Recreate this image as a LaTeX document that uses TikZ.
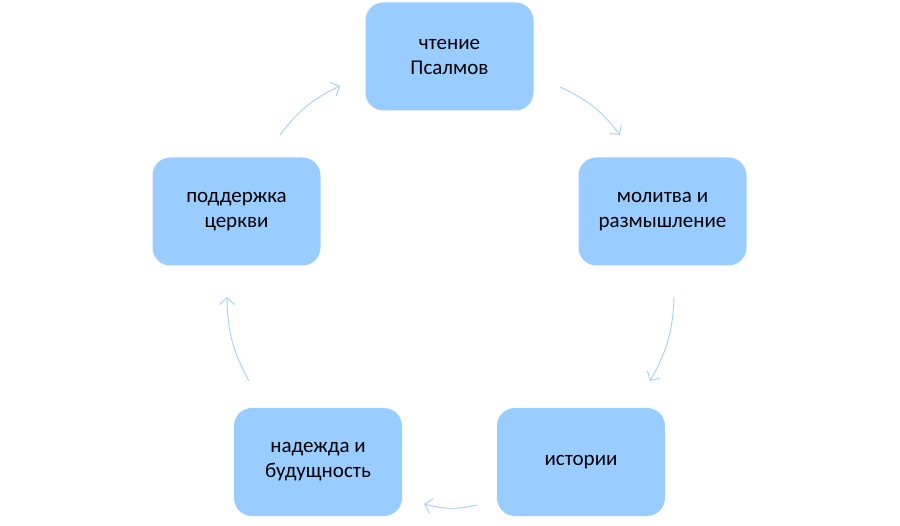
\documentclass[tikz,border=0pt]{standalone}
\usepackage{fontspec}
\setmainfont{Carlito}
\usetikzlibrary{arrows.meta}
\definecolor{sky}{RGB}{153,204,255}
\definecolor{skyline}{RGB}{160,208,255}

\begin{document}
\begin{tikzpicture}[x=1pt,y=-1pt,
    stage/.style={fill=sky,rounded corners=18pt,minimum width=168pt,minimum height=108pt,
      align=center,font=\fontsize{21}{25}\selectfont,text=black},
    flow/.style={-{Straight Barb[length=7pt,width=15pt]},skyline,line width=0.9pt}]
  \useasboundingbox (0,0) rectangle (900,526);
  \node[stage] (read) at (449.5,56.5) {чтение\\Псалмов};
  \node[stage] (pray) at (662.5,211.5) {молитва и\\размышление};
  \node[stage] (story) at (581,462) {истории};
  \node[stage] (hope) at (318,462) {надежда и\\будущность};
  \node[stage] (church) at (236.5,211.5) {поддержка\\церкви};
  % ends of the arcs between stages
  \foreach \n/\x/\y in {s1/560/87, e1/620/135, s2/674/297, e2/650/381, s3/477/505, e3/424/504,
                        s4/249/381, e4/227/297, s5/280/135, e5/340/86}
    \coordinate (\n) at (\x,\y);
  \foreach \i in {1,...,5}
    \draw[flow] (s\i) to[bend left=14] (e\i);
\end{tikzpicture}
\end{document}
